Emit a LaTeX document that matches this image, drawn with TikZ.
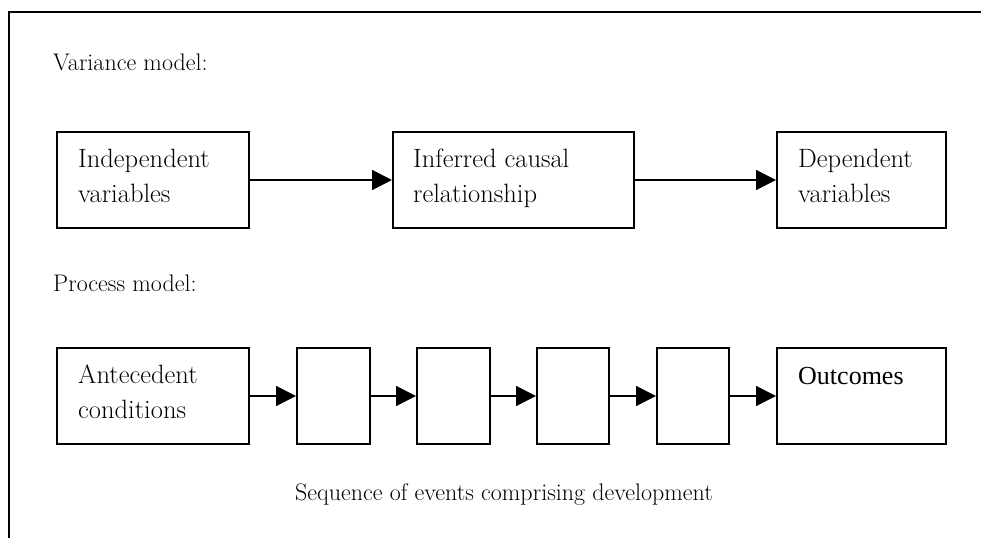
\documentclass[tikz,border=0pt]{standalone}
\usepackage{fontspec}
\newfontfamily\timesfont{Liberation Serif}
\usetikzlibrary{arrows.meta}
\begin{document}
\begin{tikzpicture}[x=1pt,y=-1pt,
  box/.style={draw, line width=2pt, inner sep=0pt, minimum height=96pt},
  flow/.style={line width=1.8pt, -{Triangle[length=20pt,width=20pt]}},
  lbl/.style={font=\fontsize{26.5}{35}\selectfont, inner sep=0pt, align=left, anchor=north west},
  head/.style={font=\fontsize{24}{35}\selectfont, inner sep=0pt, anchor=base west},
]
\useasboundingbox (0,0) rectangle (981,538);
% outer frame: top and left edges only
\draw[line width=2pt] (9,538) -- (9,12) -- (981,12);

% variance model
\node[head] (vtitle) at (53,70) {Variance model:};
\node[box, minimum width=192pt] (ind) at (153,180) {};
\node[box, minimum width=241pt] (inf) at (513.5,180) {};
\node[box, minimum width=169pt] (dep) at (861.5,180) {};
\node[lbl] (indt) at (78,148.5) {Independent\\variables};
\node[lbl] (inft) at (413,148.5) {Inferred causal\\relationship};
\node[lbl] (dept) at (798,148.5) {Dependent\\variables};
\draw[flow] (ind.east) -- (inf.west);
\draw[flow] (inf.east) -- (dep.west);

% process model
\node[head] (ptitle) at (53,291) {Process model:};
\node[box, minimum width=192pt] (ant) at (153,396) {};
\node[box, minimum width=73pt] (e1) at (333.5,396) {};
\node[box, minimum width=73pt] (e2) at (453.5,396) {};
\node[box, minimum width=72pt] (e3) at (573,396) {};
\node[box, minimum width=72pt] (e4) at (693,396) {};
\node[box, minimum width=169pt] (out) at (861.5,396) {};
\node[lbl] (antt) at (78,364.6) {Antecedent\\conditions};
\node[inner sep=0pt, anchor=base west, font=\timesfont\fontsize{26}{30}\selectfont] (outt) at (798,384) {Outcomes};
\draw[flow] (ant.east) -- (e1.west);
\draw[flow] (e1.east) -- (e2.west);
\draw[flow] (e2.east) -- (e3.west);
\draw[flow] (e3.east) -- (e4.west);
\draw[flow] (e4.east) -- (out.west);
\node[font=\fontsize{24}{35}\selectfont, inner sep=0pt, anchor=base] (seq) at (504,500) {Sequence of events comprising development};
\end{tikzpicture}
\end{document}
